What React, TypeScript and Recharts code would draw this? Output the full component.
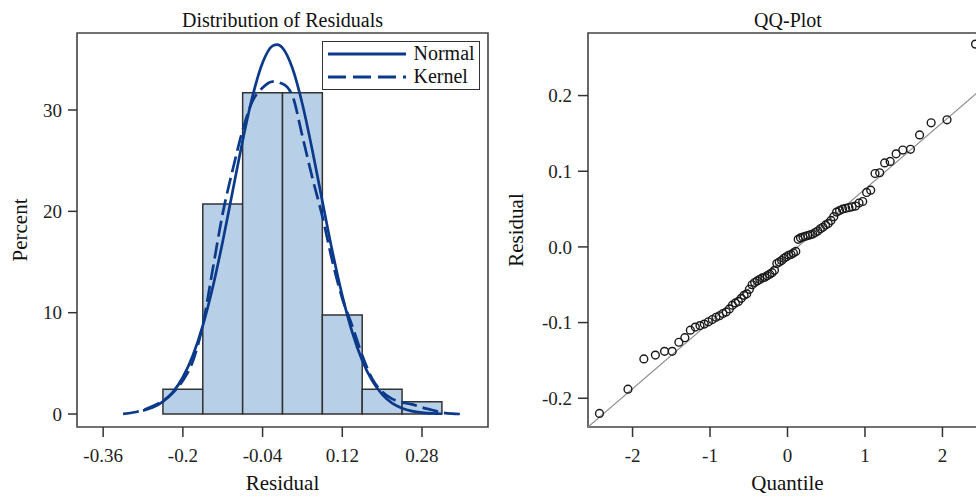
import { ComposedChart, Line, Scatter, XAxis, YAxis, ReferenceArea, Legend } from 'recharts';

const FONT = '"Liberation Serif", "Times New Roman", serif';
const BLUE = '#0c3a8a';
const INK = '#222';

// histogram of residuals (percent per bin)
const binStart = [-0.24, -0.16, -0.08, 0, 0.08, 0.16, 0.24];
const binEnd = [-0.16, -0.08, 0, 0.08, 0.16, 0.24, 0.32];
const binPercent = [2.44, 20.73, 31.71, 31.71, 9.76, 2.44, 1.22];

// fitted normal density (scaled to percent)
const normalX = [-0.28, -0.26, -0.24, -0.22, -0.2, -0.18, -0.16, -0.14, -0.12, -0.1, -0.08, -0.06, -0.04, -0.02, -0.01, 0, 0.02, 0.04, 0.06, 0.08, 0.1, 0.12, 0.14, 0.16, 0.18, 0.2, 0.22, 0.24, 0.26, 0.28, 0.3, 0.32];
const normalY = [0.34, 0.66, 1.22, 2.16, 3.63, 5.78, 8.73, 12.51, 17.03, 22.0, 26.97, 31.38, 34.66, 36.33, 36.46, 36.14, 34.12, 30.57, 26.0, 20.99, 16.08, 11.69, 8.07, 5.29, 3.29, 1.94, 1.08, 0.58, 0.29, 0.14, 0.06, 0.03];

// kernel density estimate
const kernelX = [-0.32, -0.3, -0.28, -0.26, -0.24, -0.22, -0.2, -0.18, -0.16, -0.14, -0.12, -0.1, -0.08, -0.06, -0.04, -0.02, 0, 0.02, 0.04, 0.06, 0.08, 0.1, 0.12, 0.14, 0.16, 0.18, 0.2, 0.22, 0.24, 0.26, 0.28, 0.3, 0.32, 0.34, 0.36];
const kernelY = [0.02, 0.15, 0.4, 0.8, 1.3, 2.1, 3.3, 5.2, 8.8, 14.3, 19.8, 24.1, 28.0, 30.9, 32.2, 32.8, 32.6, 31.4, 27.4, 23.3, 19.5, 15.1, 11.4, 8.7, 5.8, 3.5, 2.2, 1.5, 1.15, 0.95, 0.65, 0.4, 0.15, 0.04, 0.0];

const seriesNames = ['Normal', 'Kernel'];
const residualDomain = [-0.4125, 0.4125];
const percentDomain = [-1.28, 37.6];
const residualTicks = [-0.36, -0.2, -0.04, 0.12, 0.28];
const percentTicks = [0, 10, 20, 30];

// QQ plot
const qqQuantile = [-2.427, -2.059, -1.854, -1.705, -1.587, -1.488, -1.402, -1.325, -1.254, -1.19, -1.13, -1.074, -1.021, -0.971, -0.923, -0.878, -0.834, -0.792, -0.751, -0.711, -0.672, -0.634, -0.597, -0.561, -0.526, -0.492, -0.457, -0.424, -0.391, -0.358, -0.325, -0.293, -0.262, -0.23, -0.199, -0.168, -0.138, -0.107, -0.076, -0.046, -0.015, 0.015, 0.046, 0.076, 0.107, 0.138, 0.168, 0.199, 0.23, 0.262, 0.293, 0.325, 0.358, 0.391, 0.424, 0.457, 0.492, 0.526, 0.561, 0.597, 0.634, 0.672, 0.711, 0.751, 0.792, 0.834, 0.878, 0.923, 0.971, 1.021, 1.074, 1.13, 1.19, 1.254, 1.325, 1.402, 1.488, 1.587, 1.705, 1.854, 2.059, 2.427];
const qqResidual = [-0.22, -0.188, -0.148, -0.143, -0.138, -0.138, -0.126, -0.12, -0.11, -0.106, -0.104, -0.102, -0.099, -0.096, -0.093, -0.091, -0.088, -0.086, -0.082, -0.077, -0.074, -0.072, -0.068, -0.064, -0.062, -0.056, -0.05, -0.047, -0.045, -0.043, -0.041, -0.04, -0.038, -0.036, -0.034, -0.031, -0.022, -0.02, -0.018, -0.015, -0.013, -0.011, -0.01, -0.008, -0.006, 0.01, 0.012, 0.013, 0.014, 0.015, 0.016, 0.017, 0.019, 0.021, 0.024, 0.026, 0.029, 0.031, 0.035, 0.04, 0.046, 0.048, 0.05, 0.051, 0.052, 0.053, 0.054, 0.058, 0.06, 0.072, 0.075, 0.097, 0.098, 0.111, 0.113, 0.123, 0.128, 0.129, 0.148, 0.164, 0.168, 0.268];
const refLineQ = [-2.575, 2.575];
const refLineR = [-0.238, 0.215];
const quantileDomain = [-2.575, 2.575];
const qqResidualDomain = [-0.238, 0.2827];
const quantileTicks = [-2, -1, 0, 1, 2];
const qqResidualTicks = [-0.2, -0.1, 0, 0.1, 0.2];

const normalData = normalX.map((x, i) => ({ x, y: normalY[i] }));
const kernelData = kernelX.map((x, i) => ({ x, y: kernelY[i] }));
const qqData = qqQuantile.map((q, i) => ({ q, r: qqResidual[i] }));
const refData = refLineQ.map((q, i) => ({ q, r: refLineR[i] }));

const tickStyle = { fontSize: 19, fill: INK, fontFamily: FONT };
const tickLineStyle = { stroke: '#333', strokeWidth: 1.5 };

const YLabel = ({ viewBox, value, pos }: any) => {
  const x = viewBox.x + pos;
  const y = viewBox.y + viewBox.height / 2;
  return (
    <text x={x} y={y} transform={`rotate(-90, ${x}, ${y})`} textAnchor="middle" fontSize={21} fontFamily={FONT} fill="#111">
      {value}
    </text>
  );
};

const XLabel = ({ viewBox, value }: any) => (
  <text x={viewBox.x + viewBox.width / 2} y={viewBox.y + 63} textAnchor="middle" fontSize={21} fontFamily={FONT} fill="#111">
    {value}
  </text>
);

const LegendBox = ({ payload }: any) => {
  const items = [...(payload || [])].sort((a: any, b: any) => seriesNames.indexOf(a.value) - seriesNames.indexOf(b.value));
  return (
    <div style={{ boxSizing: 'border-box', width: 158, height: 49, border: '1.5px solid #333', background: '#fff', paddingLeft: 4.5, fontFamily: FONT, fontSize: 20, color: '#111' }}>
      {items.map((entry: any) => (
        <div key={entry.value} style={{ display: 'flex', alignItems: 'center', height: 23 }}>
          <svg width={78} height={10} style={{ marginRight: 8 }}>
            <line x1={0} y1={5} x2={78} y2={5} stroke={BLUE} strokeWidth={2.8} strokeDasharray={entry.value === 'Kernel' ? '18 7' : undefined} />
          </svg>
          <span>{entry.value}</span>
        </div>
      ))}
    </div>
  );
};

const titleStyle = (center: number): React.CSSProperties => ({
  position: 'absolute', top: 10, left: center - 250, width: 500, textAlign: 'center',
  fontFamily: FONT, fontSize: 20, lineHeight: '20px', color: '#111',
});

export default function App() {
  return (
    <div style={{ position: 'absolute', left: 0, top: 0, width: 976, height: 496, overflow: 'hidden', background: '#fff' }}>
      <div style={titleStyle(282.5)}>Distribution of Residuals</div>
      <div style={titleStyle(788)}>QQ-Plot</div>

      <div style={{ position: 'absolute', left: 0, top: 0 }}>
        <ComposedChart width={500} height={496} margin={{ top: 33, right: 12, bottom: 7, left: 0 }}>
          <XAxis type="number" dataKey="x" domain={residualDomain} allowDataOverflow ticks={residualTicks} interval={0}
            axisLine={false} tickLine={tickLineStyle} tickSize={10} tickMargin={12} height={62} tick={tickStyle}
            label={<XLabel value="Residual" />} />
          <YAxis type="number" domain={percentDomain} allowDataOverflow ticks={percentTicks} interval={0} width={77}
            axisLine={false} tickLine={tickLineStyle} tickSize={9} tickMargin={6} tick={tickStyle}
            label={<YLabel value="Percent" pos={26.5} />} />
          {binPercent.map((p, i) => (
            <ReferenceArea key={i} x1={binStart[i]} x2={binEnd[i]} y1={0} y2={p}
              fill="#b8cfe8" fillOpacity={1} stroke="#333" strokeWidth={1.5} />
          ))}
          <Line data={normalData} dataKey="y" name="Normal" type="monotone" stroke={BLUE} strokeWidth={2.7}
            dot={false} isAnimationActive={false} />
          <Line data={kernelData} dataKey="y" name="Kernel" type="monotone" stroke={BLUE} strokeWidth={2.7}
            strokeDasharray="16 6" dot={false} isAnimationActive={false} />
          <ReferenceArea x1={residualDomain[0]} x2={residualDomain[1]} y1={percentDomain[0]} y2={percentDomain[1]}
            fill="none" stroke="#444" strokeWidth={1.6} />
          <Legend layout="vertical" align="center" verticalAlign="middle" content={<LegendBox />}
            wrapperStyle={{ left: 322, top: 41, width: 158, height: 49 }} />
        </ComposedChart>
      </div>

      <div style={{ position: 'absolute', left: 490, top: 0 }}>
        <ComposedChart width={510} height={496} margin={{ top: 33, right: 13, bottom: 7, left: 0 }}>
          <XAxis type="number" dataKey="q" domain={quantileDomain} allowDataOverflow ticks={quantileTicks} interval={0}
            axisLine={false} tickLine={tickLineStyle} tickSize={10} tickMargin={12} height={62} tick={tickStyle}
            label={<XLabel value="Quantile" />} />
          <YAxis type="number" dataKey="r" domain={qqResidualDomain} allowDataOverflow ticks={qqResidualTicks} interval={0} width={98}
            axisLine={false} tickLine={tickLineStyle} tickSize={10} tickMargin={6} tick={tickStyle}
            tickFormatter={(v: number) => v.toFixed(1)}
            label={<YLabel value="Residual" pos={33} />} />
          <Line data={refData} dataKey="r" type="linear" stroke="#8c8c8c" strokeWidth={1.2} dot={false} isAnimationActive={false} />
          <Scatter data={qqData} dataKey="r" isAnimationActive={false}
            shape={(p: any) => <circle cx={p.cx} cy={p.cy} r={3.9} fill="none" stroke="#1a1a1a" strokeWidth={1.4} />} />
          <ReferenceArea x1={quantileDomain[0]} x2={quantileDomain[1]} y1={qqResidualDomain[0]} y2={qqResidualDomain[1]}
            fill="none" stroke="#444" strokeWidth={1.6} />
        </ComposedChart>
      </div>
    </div>
  );
}
